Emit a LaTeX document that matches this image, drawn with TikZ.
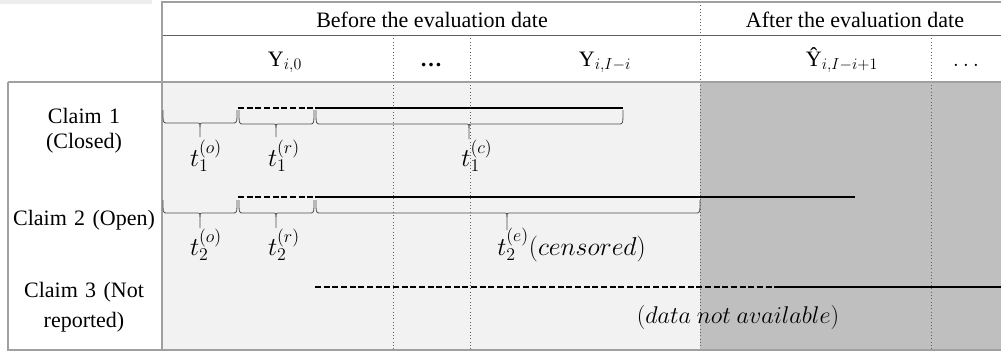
\documentclass[tikz,border=0pt]{standalone}
\usepackage{fontspec}
\setmainfont{Liberation Serif}
\definecolor{pastbg}{HTML}{F2F2F2}
\definecolor{futurebg}{HTML}{BFBFBF}
\definecolor{framegray}{HTML}{A0A0A0}
\definecolor{rulegray}{HTML}{606060}
\definecolor{bracegray}{HTML}{505050}
% horizontal brace: #1 left x, #2 right x, #3 tip x, #4 top y, #5 line y, #6 tip y
\newcommand\timebrace[6]{%
  \draw[bracestyle] (#1,#4) .. controls (#1,#5) .. ({#1+4},#5) -- ({#3-4},#5)
    .. controls (#3,#5) .. (#3,{#5+4}) -- (#3,#6);
  \draw[bracestyle] (#3,{#5+4}) .. controls (#3,#5) .. ({#3+4},#5) -- ({#2-4},#5)
    .. controls (#2,#5) .. (#2,#4);}
% enlarged math for the duration labels
\newcommand\durlabel[2][1.12]{\scalebox{#1}{$#2$}}
\begin{document}
\begin{tikzpicture}[x=0.75pt,y=-0.75pt,
  every node/.style={font=\fontsize{16.5}{20}\selectfont, inner sep=0pt},
  frame/.style={draw=framegray, line width=1.5pt},
  rowrule/.style={draw=rulegray, line width=0.7pt},
  colsep/.style={draw=rulegray, line width=0.5pt, dotted},
  known/.style={line width=1.8pt, black},
  unknown/.style={line width=0.9pt, black, dash pattern=on 4.5pt off 2pt},
  bracestyle/.style={draw=bracegray, line width=0.6pt},
  claimlabel/.style={align=center, text width=150pt}]
\useasboundingbox (0,0) rectangle (1001,354);
% faint strip at the top left
\fill[black!7] (0,0) rectangle (152,3.5);
% backgrounds of the two periods
\fill[pastbg] (162,82) rectangle (700,350);
\fill[futurebg] (700,82) rectangle (1001,350);
% column separators
\draw[colsep] (393,35) -- (393,350);
\draw[colsep] (470,35) -- (470,350);
\draw[colsep] (700,2) -- (700,350);
\draw[colsep] (931,35) -- (931,350);
% table rules and frame
\draw[rowrule] (162,35) -- (1001,35);
\draw[frame] (1001,2) -- (162,2) -- (162,350);
\draw[frame] (8,82) -- (1001,82);
\draw[frame] (8,82) -- (8,350) -- (1001,350);

% header
\node (before) at (432,20) {Before the evaluation date};
\node (after) at (855,20) {After the evaluation date};
\node[anchor=base] (y0) at (285,66) {Y$_{i,0}$};
\node[anchor=base] (dots1) at (431,66) {\textbf{…}};
\node[anchor=base] (ylast) at (605,66) {Y$_{i,I-i}$};
\node[anchor=base] (yhat) at (842,66) {Ŷ$_{i,I-i+1}$};
\node[anchor=base] (dots2) at (966,66) {$\ldots$};

% row labels
\node[claimlabel] (c1a) at (84,116) {Claim 1};
\node[claimlabel] (c1b) at (84,143) {(Closed)};
\node[claimlabel] (c2) at (84,220) {Claim 2 (Open)};
\node[claimlabel] (c3a) at (84,292) {Claim 3 (Not};
\node[claimlabel] (c3b) at (84,322) {reported)};

% claim 1
\draw[unknown] (238,108) -- (315,108);
\draw[known] (315,108) -- (623,108);
\timebrace{163}{237}{200}{110}{123}{137}
\timebrace{239}{314}{276}{110}{124}{137}
\timebrace{316}{623}{469}{110}{124}{139}
\node (t1o) at (206,156) {\durlabel{t_1^{(o)}}};
\node (t1r) at (284,156) {\durlabel{t_1^{(r)}}};
\node (t1c) at (477,156) {\durlabel{t_1^{(c)}}};

% claim 2
\draw[unknown] (238,197) -- (315,197);
\draw[known] (315,197) -- (855,197);
\timebrace{163}{237}{200}{200}{213}{228}
\timebrace{239}{314}{276}{200}{213}{228}
\timebrace{316}{700}{507}{200}{213}{230}
\node (t2o) at (206,245) {\durlabel{t_2^{(o)}}};
\node (t2r) at (284,245) {\durlabel{t_2^{(r)}}};
\node[anchor=west] (t2e) at (497,245) {\durlabel{t_2^{(e)}(censored)}};

% claim 3
\draw[unknown] (315,287) -- (777,287);
\draw[known] (777,287) -- (1001,287);
\node (na) at (738,317) {\durlabel[1.05]{(data\ not\ available)}};
\end{tikzpicture}
\end{document}
